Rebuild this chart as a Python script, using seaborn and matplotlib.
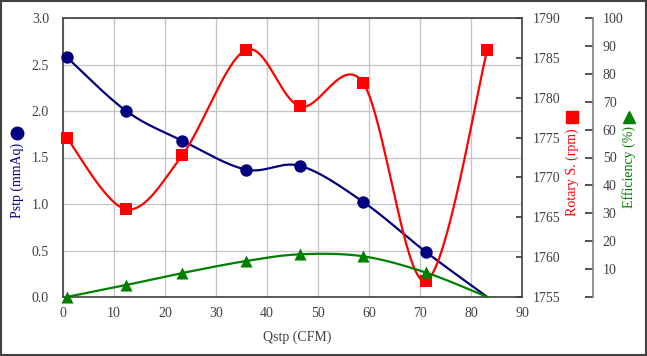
import numpy as np
import pandas as pd
import matplotlib
matplotlib.use('Agg')
import matplotlib.pyplot as plt
import seaborn as sns
from matplotlib.patches import Rectangle

# 数据
qstp = [0.7, 12.4, 23.4, 35.9, 46.5, 58.8, 71.1, 83.2]
pstp = [2.58, 2.00, 1.68, 1.37, 1.41, 1.025, 0.487, 0.0]
rotary = [1775.0, 1766.0, 1772.8, 1786.0, 1778.9, 1781.9, 1757.0, 1786.0]
efficiency = [0.0, 4.3, 8.6, 12.9, 15.3, 14.6, 8.8, 0.0]

df = pd.DataFrame({'Qstp': qstp, 'Pstp': pstp, 'Rotary': rotary, 'Eff': efficiency})

NAVY = '#000080'
RED = '#ff0000'
GREEN = '#008000'
TXT = '#404040'
FS = 10


def smooth(x, y, n=40):
    # Excel式的平滑曲线（Catmull-Rom / Bezier）
    p = np.column_stack([x, y]).astype(float)
    p = np.vstack([p[0], p, p[-1]])
    out = []
    t = np.linspace(0, 1, n)[:, None]
    for i in range(1, len(p) - 2):
        p0, p3 = p[i], p[i + 1]
        c1 = p0 + (p[i + 1] - p[i - 1]) / 6
        c2 = p3 - (p[i + 2] - p[i]) / 6
        seg = ((1 - t) ** 3) * p0 + 3 * ((1 - t) ** 2) * t * c1 + 3 * (1 - t) * t ** 2 * c2 + t ** 3 * p3
        out.append(seg)
    out = np.vstack(out)
    return out[:, 0], out[:, 1]


sns.set_theme(style='white')
plt.rcParams['font.family'] = ['Liberation Serif', 'DejaVu Serif']
plt.rcParams['font.size'] = FS

fig = plt.figure(figsize=(6.47, 3.56), dpi=100)
ax = fig.add_axes([63 / 647, 1 - 297 / 356, (522 - 63) / 647, (297 - 18) / 356])
ax2 = ax.twinx()
ax3 = ax.twinx()
ax3.spines['right'].set_position(('axes', (593 - 63) / (522 - 63)))

# 最后一个点的标记在原图中被隐藏（蓝、绿）
pts = df.iloc[:-1]

# 主轴 Pstp
sx, sy = smooth(df['Qstp'], df['Pstp'])
ax.plot(sx, sy, color=NAVY, lw=1.6, zorder=3)
sns.scatterplot(data=pts, x='Qstp', y='Pstp', ax=ax, color=NAVY, marker='o', s=80,
                edgecolor=NAVY, linewidth=0, zorder=4, clip_on=False)

# 转速
sx, sy = smooth(df['Qstp'], df['Rotary'])
ax2.plot(sx, sy, color=RED, lw=1.6, zorder=3)
sns.scatterplot(data=df, x='Qstp', y='Rotary', ax=ax2, color=RED, marker='s', s=75,
                edgecolor=RED, linewidth=0, zorder=4, clip_on=False)

# 效率
sx, sy = smooth(df['Qstp'], df['Eff'])
ax3.plot(sx, sy, color=GREEN, lw=1.6, zorder=3, clip_on=False)
sns.scatterplot(data=pts, x='Qstp', y='Eff', ax=ax3, color=GREEN, marker='^', s=75,
                edgecolor=GREEN, linewidth=0, zorder=4, clip_on=False)

ax.set_xlim(0, 90)
ax.set_ylim(0, 3.0)
ax.set_xticks(np.arange(0, 91, 10))
ax.set_yticks(np.arange(0, 3.01, 0.5))
ax.set_yticklabels(['%.1f' % v for v in np.arange(0, 3.01, 0.5)])
ax.grid(True, color='#c4c4c4', lw=0.9)
ax.set_xlabel('')
ax.set_ylabel('')
ax.tick_params(axis='both', length=0, colors=TXT, labelsize=FS)
ax.tick_params(axis='y', pad=10)
ax.tick_params(axis='x', pad=7)

ax2.set_ylim(1755, 1790)
ax2.set_yticks(np.arange(1755, 1791, 5))
ax2.set_ylabel('')
ax2.tick_params(axis='y', direction='in', length=4, colors=TXT, labelsize=FS, pad=8)
ax2.grid(False)

ax3.set_ylim(0, 100)
ax3.set_yticks(np.arange(0, 101, 10))
ax3.set_yticklabels([''] + [str(v) for v in range(10, 101, 10)])
ax3.set_ylabel('')
ax3.tick_params(axis='y', direction='in', length=6, colors=TXT, labelsize=FS, pad=7)
ax3.grid(False)

for a in (ax, ax2, ax3):
    for s in a.spines.values():
        s.set_visible(False)
for s in ('left', 'bottom', 'top', 'right'):
    ax.spines[s].set_visible(True)
    ax.spines[s].set_color('#404040')
    ax.spines[s].set_linewidth(1.2)
ax3.spines['right'].set_visible(True)
ax3.spines['right'].set_color('#808080')
ax3.spines['right'].set_linewidth(1.2)
ax3.tick_params(axis='y', color='#404040')

# 轴标题 + 图例符号
fig.text(297 / 647, 1 - 337 / 356, 'Qstp (CFM)', ha='center', va='center', color=TXT, fontsize=FS)
fig.text(17 / 647, 1 - 180 / 356, 'Pstp (mmAq)', rotation=90, ha='center', va='center', color=NAVY, fontsize=FS)
fig.text(572 / 647, 1 - 172 / 356, 'Rotary S. (rpm)', rotation=90, ha='center', va='center', color=RED, fontsize=FS)
fig.text(629 / 647, 1 - 167 / 356, 'Efficiency (%)', rotation=90, ha='center', va='center', color=GREEN, fontsize=FS)
fig.lines.append(plt.Line2D([17 / 647], [1 - 133 / 356], transform=fig.transFigure, marker='o',
                            ms=9, color=NAVY, ls='none'))
fig.lines.append(plt.Line2D([572 / 647], [1 - 117 / 356], transform=fig.transFigure, marker='s',
                            ms=8.5, color=RED, ls='none'))
fig.lines.append(plt.Line2D([629 / 647], [1 - 117 / 356], transform=fig.transFigure, marker='^',
                            ms=9, color=GREEN, ls='none'))

# 外框
fig.patches.append(Rectangle((0.001, 0.003), 0.997, 0.995, transform=fig.transFigure,
                             fill=False, edgecolor='#404040', lw=1.5))

fig.savefig('out.png', dpi=100)
